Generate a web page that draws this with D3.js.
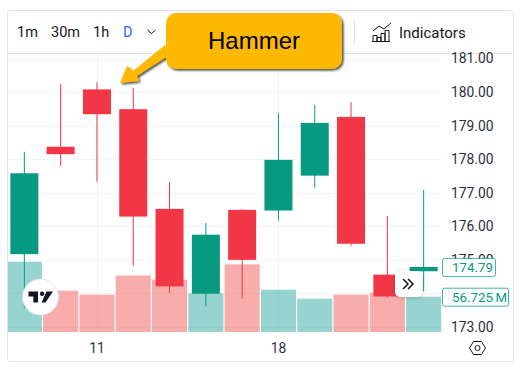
<!DOCTYPE html>
<html>
<head>
<meta charset="utf-8">
<script src="https://cdn.jsdelivr.net/npm/d3@7"></script>
<style>
html,body{margin:0;padding:0;background:#fff}
svg{display:block}
text{font-family:Roboto,sans-serif}
</style>
</head>
<body>
<div id="chart"></div>
<script>
const days=['7','8','11','12','13','14','15','18','19','20','21','22'];
const open=[175.17,178.37,180.08,179.49,176.52,173.99,176.49,176.47,177.51,179.26,174.56,174.66];
const close=[177.58,178.15,179.34,176.29,174.21,175.75,175.00,177.98,179.08,175.48,173.91,174.79];
const high=[178.22,180.24,180.29,180.12,177.32,176.10,176.52,179.38,179.62,179.70,176.31,177.09];
const low=[173.57,177.80,177.33,174.82,174.01,173.61,173.84,176.17,177.15,175.42,173.87,174.06];
const volume=[113,66.4,60,90.8,84.3,62.2,108.6,68,53.5,60,63.2,56.725];
const priceTicks=[173,175,176,177,178,179,180,181];
const dayTicks=['11','18'];
const intervals=['1m','30m','1h','D'];

const W=525,H=371,UP='#089981',DOWN='#F23645',VUP='#26a69a',VDOWN='#ef5350',frame={l:8,t:11,r:513,b:361},plot={r:442,t:53,b:332};
const svg=d3.select('#chart').append('svg').attr('width',W).attr('height',H);
const defs=svg.append('defs');
defs.append('clipPath').attr('id','plot').append('rect').attr('x',frame.l).attr('y',plot.t).attr('width',plot.r-frame.l).attr('height',plot.b-plot.t);
const sh=defs.append('filter').attr('id','shadow').attr('x','-20%').attr('y','-30%').attr('width','140%').attr('height','160%');
sh.append('feDropShadow').attr('dx',1.5).attr('dy',1.5).attr('stdDeviation',1.2).attr('flood-color','#000').attr('flood-opacity',0.75);
const sb=defs.append('filter').attr('id','soft').attr('x','-30%').attr('y','-30%').attr('width','160%').attr('height','160%');
sb.append('feDropShadow').attr('dx',0).attr('dy',1).attr('stdDeviation',2).attr('flood-color','#000').attr('flood-opacity',0.18);

const x=d3.scaleBand().domain(days).range([6.2,441.8]);
const y=d3.scaleLinear().domain([173,181]).range([327,58.5]);
const v=d3.scaleLinear().domain([0,56.725]).range([plot.b,296.7]);
const cx=d=>x(d)+x.bandwidth()/2;
const rows=days.map((d,i)=>({d,o:open[i],c:close[i],h:high[i],l:low[i],v:volume[i],up:close[i]>=open[i]}));

// frame + toolbar
svg.append('rect').attr('x',frame.l-.5).attr('y',frame.t-.5).attr('width',frame.r-frame.l+1).attr('height',frame.b-frame.t+1).attr('rx',3).attr('fill','#fff').attr('stroke','#e3e3e7');
svg.append('line').attr('x1',frame.l).attr('x2',frame.r).attr('y1',53.5).attr('y2',53.5).attr('stroke','#e0e3eb');

// grid
const g=svg.append('g').attr('clip-path','url(#plot)');
g.selectAll('.hgrid').data(d3.range(173,182)).join('line').attr('class','hgrid')
  .attr('x1',frame.l).attr('x2',plot.r).attr('y1',d=>Math.round(y(d))+.5).attr('y2',d=>Math.round(y(d))+.5).attr('stroke','#f2f3f5');
g.selectAll('.vgrid').data(dayTicks).join('line').attr('class','vgrid')
  .attr('x1',d=>Math.round(cx(d))+.5).attr('x2',d=>Math.round(cx(d))+.5).attr('y1',plot.t).attr('y2',plot.b).attr('stroke','#f2f3f5');

// volume
g.selectAll('.vol').data(rows).join('rect').attr('class','vol')
  .attr('x',d=>x(d.d)+.6).attr('width',x.bandwidth()-1.2).attr('y',d=>v(d.v)).attr('height',d=>plot.b-v(d.v))
  .attr('fill',d=>d.up?VUP:VDOWN).attr('opacity',.48);

// candles
g.selectAll('.wick').data(rows).join('line').attr('class','wick')
  .attr('x1',d=>cx(d.d)).attr('x2',d=>cx(d.d)).attr('y1',d=>y(d.h)).attr('y2',d=>y(d.l))
  .attr('stroke',d=>d.up?UP:DOWN).attr('stroke-width',1);
g.selectAll('.body').data(rows).join('rect').attr('class','body')
  .attr('x',d=>cx(d.d)-14).attr('width',28).attr('y',d=>y(Math.max(d.o,d.c))).attr('height',d=>Math.abs(y(d.o)-y(d.c)))
  .attr('fill',d=>d.up?UP:DOWN);

// axes
const ay=svg.append('g').attr('transform','translate('+plot.r+',0)').call(d3.axisRight(y).tickValues(priceTicks).tickFormat(d3.format('.2f')).tickSize(0).tickPadding(9));
ay.select('.domain').remove();
ay.selectAll('text').attr('fill','#2a2e39').style('font-size','13.8px').style('font-family','Roboto');
const ax=svg.append('g').attr('transform','translate(0,'+plot.b+')').call(d3.axisBottom(x).tickValues(dayTicks).tickSize(0).tickPadding(11));
ax.select('.domain').remove();
ax.selectAll('text').attr('fill','#2a2e39').style('font-size','13.8px').style('font-family','Roboto');

// last price + volume tags
const last=rows[rows.length-1];
function tag(yy,w,t){
  const a=svg.append('g');
  a.append('rect').attr('x',plot.r+.5).attr('y',yy-8.5).attr('width',w).attr('height',18).attr('rx',2).attr('fill','#fff').attr('stroke',UP).attr('stroke-opacity',.75);
  a.append('text').attr('x',plot.r+10).attr('y',yy+5).attr('fill',UP).style('font-size','13.3px').text(t);
}
tag(y(last.c),53,last.c.toFixed(2));
tag(v(last.v),66,last.v.toFixed(3)+'\u2009M');

// toolbar text
const tx=[17,51,93,123];
svg.selectAll('.iv').data(intervals).join('text').attr('class','iv').attr('x',(d,i)=>tx[i]).attr('y',37)
  .attr('fill',d=>d==='D'?'#2962ff':'#131722').style('font-size','14.5px').text(d=>d);
svg.append('path').attr('d','M147.5 30l4 3.5 4-3.5').attr('fill','none').attr('stroke','#131722');
svg.append('line').attr('x1',354.5).attr('x2',354.5).attr('y1',21).attr('y2',44).attr('stroke','#e0e3eb');
svg.append('text').attr('x',399).attr('y',37.5).attr('fill','#131722').style('font-size','15px').text('Indicators');
const ic=svg.append('g').attr('fill','none').attr('stroke','#131722').attr('stroke-width',1);
ic.append('path').attr('d','M373 31l6-5 5 3 7-6');
ic.append('path').attr('d','M373 41.5v-6h4v6m0 0v-4h4v4m0 0v-8h4v8m0 0v-11h4v11zM372 41.5h18');

// tradingview badge
const logo=svg.append('g').attr('transform','translate(40.5,297)');
logo.append('circle').attr('r',18).attr('fill','#fff').attr('stroke','#e0e3eb').attr('stroke-width',1);
logo.append('path').attr('d','M-12-5.5h9.5v11h-4.7v-6h-4.8zM6-5.5h6.5L5 5.5h-4z').attr('fill','#131722');
logo.append('circle').attr('cx',1.6).attr('cy',-3.2).attr('r',2.2).attr('fill','#131722');

// scroll button
const sc=svg.append('g').attr('transform','translate(395,271)');
sc.append('rect').attr('width',27).attr('height',26).attr('rx',5).attr('fill','#fff').attr('filter','url(#soft)');
sc.append('path').attr('d','M8 8l5 5-5 5M13 8l5 5-5 5').attr('fill','none').attr('stroke','#131722').attr('stroke-width',1.5);

// settings hexagon
const hx=svg.append('g').attr('transform','translate(477.5,348)').attr('fill','none').attr('stroke','#131722');
hx.append('path').attr('d','M-8 0l4-6.5h8l4 6.5-4 6.5h-8z');
hx.append('circle').attr('r',2.5);

// callout
const ann=svg.append('g').attr('filter','url(#shadow)');
ann.append('path').attr('d','M120 83L127 66L133 71L165 45L168 56L137 76L139 81Z').attr('fill','#FDB900');
ann.append('rect').attr('x',166).attr('y',13).attr('width',176).attr('height',56).attr('rx',10).attr('fill','#FDB900');
svg.append('text').attr('x',254).attr('y',49).attr('text-anchor','middle').attr('fill','#000').style('font-family','Liberation Sans').style('font-size','24px').text('Hammer');
</script>
</body>
</html>
